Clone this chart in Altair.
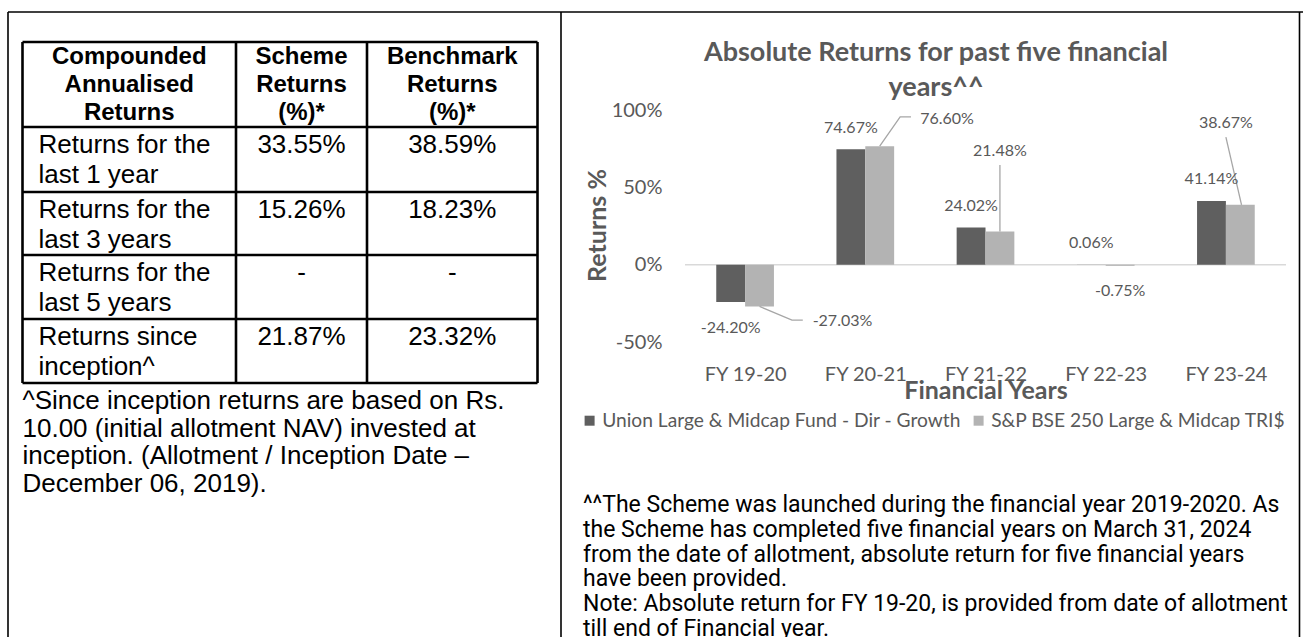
import json
import altair as alt
import pandas as pd

# ---------------- data ----------------
years = ["FY 19-20", "FY 20-21", "FY 21-22", "FY 22-23", "FY 23-24"]
series_names = ["Union Large & Midcap Fund - Dir - Growth", "S&P BSE 250 Large & Midcap TRI$"]
scheme_abs = [-24.20, 74.67, 24.02, 0.06, 41.14]
bench_abs = [-27.03, 76.60, 21.48, -0.75, 38.67]

# hand-placed benchmark data labels of the source chart (category units, percent)
bench_label_x = [0.81, 1.68, 2.12, 3.12, 4.00]
bench_label_y = [-36.6, 94.2, 73.5, -17.2, 91.6]
leader_x = [[0.12, 0.39, 0.48], [1.12, 1.29, 1.38], [2.12, 2.12], [4.13, 4.00]]
leader_y = [[-27.03, -35.9, -35.9], [76.60, 95.5, 95.5], [21.48, 64.4], [38.67, 82.5]]

head_col1 = ["Compounded", "Annualised", "Returns"]
head_col2 = ["Scheme", "Returns", "(%)*"]
head_col3 = ["Benchmark", "Returns", "(%)*"]
row_labels = [["Returns for the", "last 1 year"], ["Returns for the", "last 3 years"],
              ["Returns for the", "last 5 years"], ["Returns since", "inception^"]]
scheme_cagr = ["33.55%", "15.26%", "-", "21.87%"]
bench_cagr = ["38.59%", "18.23%", "-", "23.32%"]

left_note = ["^Since inception returns are based on Rs.",
             "10.00 (initial allotment NAV) invested at",
             "inception. (Allotment / Inception Date \u2013",
             "December 06, 2019)."]
right_note = ["^^The Scheme was launched during the financial year 2019-2020. As",
              "the Scheme has completed five financial years on March 31, 2024",
              "from the date of allotment, absolute return for five financial years",
              "have been provided.",
              "Note: Absolute return for FY 19-20, is provided from date of allotment",
              "till end of Financial year."]

chart_title = ["Absolute Returns for past five financial", "years^^"]

# ---------------- layout / style ----------------
W, H = 1303, 637
OX, OY = 685, 110          # plot origin on the page
PW, PH = 601, 232          # plot size
GRAY = "#595959"
DARK, LIGHT = "#5f5f5f", "#b3b3b3"
CAL = "Lato"
ARIAL = "Liberation Sans, Arial, sans-serif"
NARROW = "Liberation Sans Narrow, Arial Narrow, Roboto, sans-serif"
HALF = 0.24                # bar width in category units

col_edges = [22.5, 236, 367, 537.5]
row_edges = [42, 127, 192, 255, 319, 383]

# ---------------- bar chart ----------------
rows = []
for i, (a, b) in enumerate(zip(scheme_abs, bench_abs)):
    rows.append({"i": i, "series": series_names[0], "value": a, "x0": i - HALF, "x1": i, "zero": 0})
    rows.append({"i": i, "series": series_names[1], "value": b, "x0": i, "x1": i + HALF, "zero": 0})
bar_df = pd.DataFrame(rows)

lab_rows = []
for i, v in enumerate(scheme_abs):
    lab_rows.append({"lx": i - HALF / 2, "ly": v + (14.0 if v >= 0 else -16.5), "t": f"{v:.2f}%"})
for i, v in enumerate(bench_abs):
    lab_rows.append({"lx": bench_label_x[i], "ly": bench_label_y[i], "t": f"{v:.2f}%"})
lab_df = pd.DataFrame(lab_rows)

lead_rows = []
for k, (xs, ys) in enumerate(zip(leader_x, leader_y)):
    for j, (a, b) in enumerate(zip(xs, ys)):
        lead_rows.append({"id": k, "o": j, "lx": a, "ly": b})
lead_df = pd.DataFrame(lead_rows)

xscale = alt.Scale(domain=[-0.5, 4.5], nice=False, zero=False)
yscale = alt.Scale(domain=[-50, 100], nice=False, zero=False)

xaxis = alt.Axis(values=list(range(len(years))),
                 labelExpr=json.dumps(years) + "[datum.value]",
                 domain=False, ticks=False, tickSize=0, grid=False,
                 labelPadding=22, labelFont=CAL, labelFontSize=20, labelColor=GRAY,
                 labelOverlap=False, labelFlush=False,
                 title="Financial Years", titleFont=CAL, titleFontSize=25,
                 titleFontWeight="bold", titleColor=GRAY, titleY=48,
                 titleBaseline="middle")
yaxis = alt.Axis(values=[-50, 0, 50, 100], labelExpr="datum.value + '%'",
                 domain=False, ticks=False, tickSize=0, grid=False,
                 labelPadding=23, labelFont=CAL, labelFontSize=20, labelColor=GRAY,
                 title="Returns %", titleFont=CAL, titleFontSize=25,
                 titleFontWeight="bold", titleColor=GRAY, titleX=-88, titleY=115,
                 titleAngle=270, titleAlign="center", titleBaseline="middle")

zero_rule = alt.Chart(pd.DataFrame({"z": [0]})).mark_rule(color="#d9d9d9", strokeWidth=1.5).encode(
    y=alt.Y("z:Q", scale=yscale, axis=yaxis))

bars = alt.Chart(bar_df).mark_bar().encode(
    x=alt.X("x0:Q", scale=xscale, axis=xaxis),
    x2="x1:Q",
    y=alt.Y("value:Q", scale=yscale, axis=yaxis),
    y2="zero:Q",
    color=alt.Color("series:N", scale=alt.Scale(domain=series_names, range=[DARK, LIGHT]),
                    legend=alt.Legend(orient="none", legendX=-105, legendY=301,
                                      direction="horizontal", columns=2, title=None,
                                      symbolType="square", symbolSize=100,
                                      symbolStrokeWidth=0, labelFont=CAL,
                                      labelFontSize=19.2, labelColor=GRAY,
                                      labelOffset=3, columnPadding=8, padding=0,
                                      labelLimit=1000)),
)

leaders = alt.Chart(lead_df).mark_line(color="#a6a6a6", strokeWidth=1.3).encode(
    x=alt.X("lx:Q", scale=xscale, axis=xaxis),
    y=alt.Y("ly:Q", scale=yscale, axis=yaxis),
    detail="id:N", order="o:Q")

labels = alt.Chart(lab_df).mark_text(font=CAL, fontSize=16, color=GRAY, baseline="middle").encode(
    x=alt.X("lx:Q", scale=xscale, axis=xaxis),
    y=alt.Y("ly:Q", scale=yscale, axis=yaxis),
    text="t:N")

plot = alt.layer(zero_rule, bars, leaders, labels)

# ---------------- page decoration (table, notes, frame, title) ----------------
def text_layer(items, align, size, weight="normal", font=ARIAL, color="#000000"):
    df = pd.DataFrame([{"x": x - OX, "y": y - OY, "t": t} for x, y, t in items])
    return alt.Chart(df).mark_text(align=align, baseline="middle", font=font, fontSize=size,
                                   fontWeight=weight, color=color).encode(
        x=alt.X("x:Q", scale=None, axis=None),
        y=alt.Y("y:Q", scale=None, axis=None),
        text="t:N")

def rule_layer(segs, width):
    df = pd.DataFrame([{"x": a - OX, "y": b - OY, "x2": c - OX, "y2": d - OY} for a, b, c, d in segs])
    return alt.Chart(df).mark_rule(color="#000000", strokeWidth=width).encode(
        x=alt.X("x:Q", scale=None, axis=None), x2="x2:Q",
        y=alt.Y("y:Q", scale=None, axis=None), y2="y2:Q")

col_centers = [(col_edges[k] + col_edges[k + 1]) / 2 for k in range(3)]
head_items = []
for k, col in enumerate([head_col1, head_col2, head_col3]):
    for j, t in enumerate(col):
        head_items.append((col_centers[k], row_edges[0] + 15 + 28 * j, t))

body_left = []
body_vals = []
for r, lines in enumerate(row_labels):
    top = row_edges[r + 1]
    for j, t in enumerate(lines):
        body_left.append((col_edges[0] + 16, top + 18 + 30 * j, t))
    body_vals.append((col_centers[1], top + 18, scheme_cagr[r]))
    body_vals.append((col_centers[2], top + 18, bench_cagr[r]))

left_items = [(col_edges[0], 401 + 27.5 * j, t) for j, t in enumerate(left_note)]
right_items = [(583, 505 + 24.8 * j, t) for j, t in enumerate(right_note)]
title_items = [(936, 53 + 35 * j, t) for j, t in enumerate(chart_title)]

table_segs = [(col_edges[0], y, col_edges[-1], y) for y in row_edges] + \
             [(x, row_edges[0], x, row_edges[-1]) for x in col_edges]
frame_segs = [(8, 12, W, 12), (8, 12, 8, H), (561, 12, 561, H), (1299.5, 12, 1299.5, H)]

decor = [
    rule_layer(frame_segs, 1.6),
    rule_layer(table_segs, 2.6),
    text_layer(head_items, "center", 24, "bold"),
    text_layer(body_left, "left", 26),
    text_layer(body_vals, "center", 26),
    text_layer(left_items, "left", 26),
    text_layer(right_items, "left", 23, font=NARROW),
    text_layer(title_items, "center", 27, "bold", font=CAL, color=GRAY),
]

chart = alt.layer(plot, *decor).resolve_scale(x="independent", y="independent").properties(
    width=PW, height=PH,
    padding={"left": OX, "top": OY, "right": W - OX - PW, "bottom": H - OY - PH},
    autosize=alt.AutoSizeParams(type="none"),
    background="white",
).configure_view(stroke=None)

chart.save("out.html", embed_options={"renderer": "svg", "actions": False})
